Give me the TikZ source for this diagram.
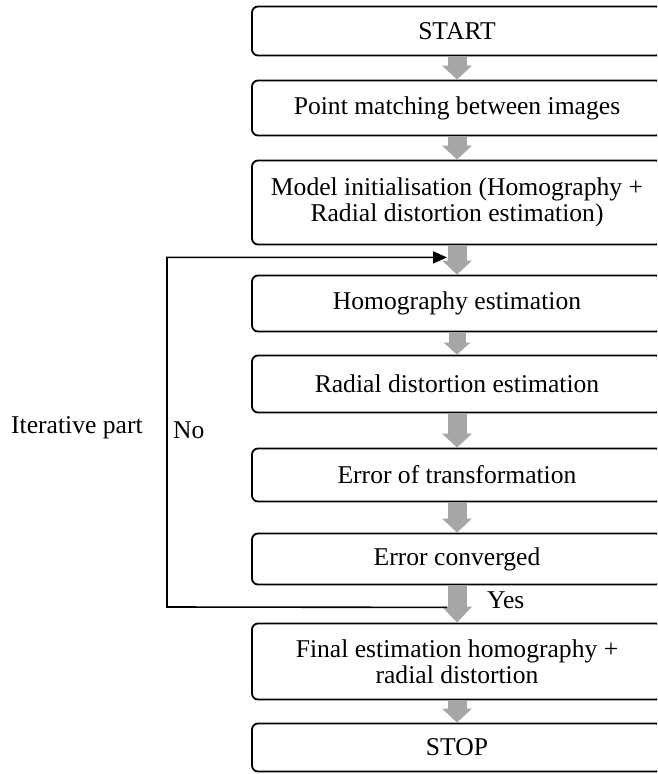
\documentclass[tikz,border=0pt]{standalone}
\usepackage{fontspec}
\setmainfont{Liberation Serif}
\usetikzlibrary{arrows.meta, calc, positioning}
\definecolor{arrowgray}{RGB}{166,166,166}
\newcommand{\drawfb}{\draw[line width=1.6pt]}

\begin{document}
\begin{tikzpicture}[x=1pt, y=-1pt, font=\fontsize{25.6}{26.5}\selectfont,
  box/.style={draw, line width=1.8pt, rounded corners=6pt, minimum width=410pt,
    align=center, inner sep=0pt},
  flowarrow/.style={draw=arrowgray, line width=19pt,
    -{Triangle[width=29pt, length=14pt]}},
  lbl/.style={anchor=west, inner sep=0pt}]
\clip (0,0) rectangle (657,774);
% Blocks
\node[box, minimum height=49pt] (start) at (457,31) {START};
\node[box, minimum height=55pt] (match) at (457,108) {Point matching between images};
\node[box, minimum height=84pt] (init) at (457,202.5) {Model initialisation (Homography +\\Radial distortion estimation)};
\node[box, minimum height=56pt] (homog) at (457,303.5) {Homography estimation};
\node[box, minimum height=57pt] (radial) at (457,384) {Radial distortion estimation};
\node[box, minimum height=53pt] (errtr) at (457,475) {Error of transformation};
\node[box, minimum height=51pt] (errconv) at (457,559) {Error converged};
\node[box, minimum height=76pt] (final) at (457,661.5) {Final estimation homography +\\radial distortion};
\node[box, minimum height=48pt] (stop) at (457,747.5) {STOP};

% Gray arrows
\draw[flowarrow] (start) -- (match);
\draw[flowarrow] (match) -- (init);
\draw[flowarrow] (init) -- (homog);
\draw[flowarrow, line width=17pt, -{Triangle[width=26pt, length=12pt]}] (homog) -- (radial);
\draw[flowarrow] (radial) -- (errtr);
\draw[flowarrow] (errtr) -- (errconv);
\draw[flowarrow, -{Triangle[width=29pt, length=16pt]}] (errconv) -- (final);
\draw[flowarrow] (final) -- (stop);

% Feedback loop
\coordinate (fbout) at ($(errconv.south)+(-10,22)$);
\coordinate (fbin) at ($(init.south)+(-10,12)$);
\coordinate (fbcorner) at (167,607);
\drawfb[-{Triangle[length=14pt, width=12pt]}] (fbout) -- (fbcorner) |- (fbin);

% Labels
\node[lbl] (iter) at (11,428) {Iterative part};
\node[lbl] (no) at (173,430) {No};
\node[lbl] (yes) at (487,600) {Yes};
\end{tikzpicture}
\end{document}
